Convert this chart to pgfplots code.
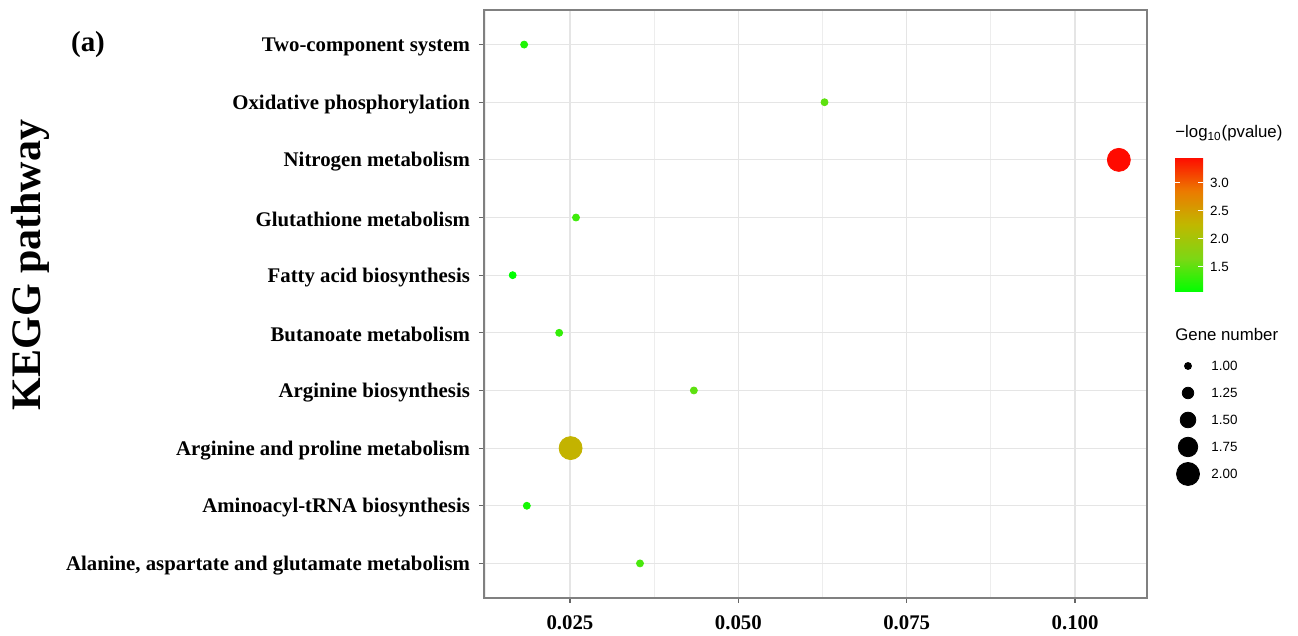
\documentclass[border=0pt]{standalone}
\usepackage{fontspec}
\setmainfont{Liberation Serif}
\setsansfont{Liberation Sans}
\usepackage{pgfplots}
\usepackage{pgfplotstable}
\pgfplotsset{compat=1.18}
\pgfplotsset{/pgf/number format/assume math mode=true}

\pgfplotstableread{
x y p n
0.0354 1 1.40 1
0.0186 2 1.15 1
0.0251 3 2.30 2
0.0434 4 1.50 1
0.0234 5 1.30 1
0.0165 6 1.05 1
0.0259 7 1.35 1
0.1065 8 3.46 2
0.0628 9 1.50 1
0.0182 10 1.20 1
}\kegg

\pgfplotstableread{
x y n
594 135.0 1.00
594 121.5 1.25
594 108.0 1.50
594 94.5 1.75
594 81.0 2.00
}\sizeleg

\begin{document}
\begin{tikzpicture}
\useasboundingbox (0,0) rectangle (649pt,318pt);
\begin{axis}[
  scale only axis, width=331.5pt, height=294pt,
  at={(242pt,19pt)}, anchor=south west,
  xmin=0.01224, xmax=0.11068, ymin=0.4, ymax=10.6,
  xtick={0.025,0.05,0.075,0.1},
  xticklabels={0.025,0.050,0.075,0.100},
  minor xtick={0.0125,0.0375,0.0625,0.0875},
  ytick={1,...,10},
  yticklabels={{Alanine, aspartate and glutamate metabolism},{Aminoacyl-tRNA biosynthesis},{Arginine and proline metabolism},{Arginine biosynthesis},{Butanoate metabolism},{Fatty acid biosynthesis},{Glutathione metabolism},{Nitrogen metabolism},{Oxidative phosphorylation},{Two-component system}},
  xmajorgrids, ymajorgrids, xminorgrids,
  major grid style={black!10, line width=0.6pt},
  minor grid style={black!7, line width=0.4pt},
  axis line style={black!50, line width=0.8pt},
  tick align=outside, tick pos=left, major tick length=2.5pt, minor tick length=0pt,
  tick style={black!60, line width=0.6pt},
  ticklabel style={font=\bfseries\fontsize{10.4}{12}\selectfont},
  xticklabel style={yshift=-3pt},
  yticklabel style={xshift=-1pt, yshift=-1pt},
  colormap={gg}{rgb255(0cm)=(0,255,0); rgb255(1cm)=(125,215,20); rgb255(2cm)=(192,184,0); rgb255(3cm)=(236,122,0); rgb255(4cm)=(255,10,0)},
  point meta min=1.05, point meta max=3.46,
  colorbar,
  colorbar style={
    scale only axis, width=14pt, height=67.5pt,
    at={(parent axis.north east)}, anchor=north west, xshift=5.5pt, yshift=-73.5pt,
    ytick={1.5,2,2.5,3},
    yticklabel style={font=\sffamily\fontsize{6.7}{8}\selectfont, /pgf/number format/.cd, fixed, fixed zerofill, precision=1},
    axis line style={draw=none},
    major tick length=2.5pt, tick align=inside,
    tick style={white, line width=0.5pt},
  },
]
\addplot[scatter, only marks, mark=*, point meta=explicit,
  visualization depends on={1.75+(sqrt(\thisrow{n})-1)*9.657 \as \msize},
  scatter/use mapped color={draw=mapped color, fill=mapped color},
  scatter/@pre marker code/.append style={/tikz/mark size=\msize}]
  table[x=x, y=y, meta=p]{\kegg};
\end{axis}

\begin{axis}[x=1pt, y=1pt, xmin=580, xmax=620, ymin=70, ymax=160,
  at={(580pt,70pt)}, anchor=south west, hide axis, clip=false]
\addplot[scatter, only marks, mark=*, point meta=explicit,
  visualization depends on={1.75+(sqrt(\thisrow{n})-1)*9.657 \as \msize},
  scatter/use mapped color={draw=black, fill=black},
  scatter/@pre marker code/.append style={/tikz/mark size=\msize}]
  table[x=x, y=y, meta=n]{\sizeleg};
\end{axis}

\node[font=\sffamily\fontsize{6.7}{8}\selectfont, anchor=west, inner sep=0pt] at (605.5pt,135.0pt) {1.00};
\node[font=\sffamily\fontsize{6.7}{8}\selectfont, anchor=west, inner sep=0pt] at (605.5pt,121.5pt) {1.25};
\node[font=\sffamily\fontsize{6.7}{8}\selectfont, anchor=west, inner sep=0pt] at (605.5pt,108.0pt) {1.50};
\node[font=\sffamily\fontsize{6.7}{8}\selectfont, anchor=west, inner sep=0pt] at (605.5pt,94.5pt) {1.75};
\node[font=\sffamily\fontsize{6.7}{8}\selectfont, anchor=west, inner sep=0pt] at (605.5pt,81.0pt) {2.00};
\node[font=\sffamily\fontsize{8.4}{10}\selectfont, anchor=west, inner sep=0pt] at (587.5pt,150.5pt) {Gene number};
\node[font=\sffamily\fontsize{8.4}{10}\selectfont, anchor=west, inner sep=0pt] at (587.5pt,251.5pt) {−log\textsubscript{10}(pvalue)};
\node[font=\bfseries\fontsize{21}{24}\selectfont, rotate=90] at (15pt,185.5pt) {KEGG pathway};
\node[font=\bfseries\fontsize{14.5}{16}\selectfont] at (44pt,295.5pt) {(a)};
\end{tikzpicture}
\end{document}
